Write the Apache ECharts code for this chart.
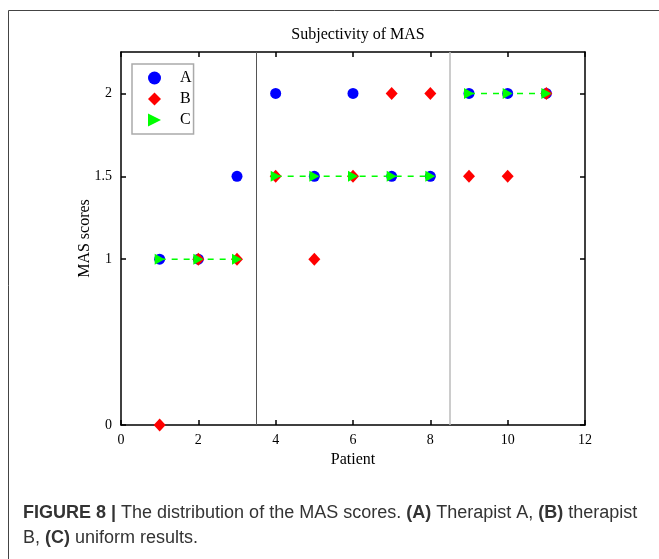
<!DOCTYPE html>
<html>
<head>
<meta charset="utf-8">
<script src="https://cdn.jsdelivr.net/npm/echarts@6/dist/echarts.min.js"></script>
<style>
  html, body { margin: 0; padding: 0; background: #fff; }
  #chart { width: 659px; height: 559px; }
</style>
</head>
<body>
<div id="chart"></div>
<script>
// data
var patients = [1, 2, 3, 4, 5, 6, 7, 8, 9, 10, 11];
var scoresA  = [1, 1, 1.5, 2, 1.5, 2, 1.5, 1.5, 2, 2, 2];      // therapist A
var scoresB  = [0, 1, 1, 1.5, 1, 1.5, 2, 2, 1.5, 1.5, 2];      // therapist B
var scoresC  = [1, 1, 1, 1.5, 1.5, 1.5, 1.5, 1.5, 2, 2, 2];    // uniform results
var groupBreaks = [3.5, 8.5];
var yTicks = [0, 1, 1.5, 2];

var serif = '"Liberation Serif", "DejaVu Serif", serif';
var sans = '"Liberation Sans", Arial, sans-serif';
var triPath = 'path://M0,0 L10,5 L0,10 Z';

function pairs(ys) {
    return patients.map(function (p, i) { return [p, ys[i]]; });
}

// split C into the three dashed segments
var segC = [[], [], []];
patients.forEach(function (p, i) {
    var g = 0;
    while (g < groupBreaks.length && p > groupBreaks[g]) g++;
    segC[g].push([p, scoresC[i]]);
});

var series = [
    {
        name: 'A', type: 'scatter', data: pairs(scoresA),
        symbol: 'circle', symbolSize: 11,
        itemStyle: { color: '#0000ff', opacity: 1 },
        markLine: {
            silent: true, symbol: 'none', label: { show: false },
            data: [
                { xAxis: groupBreaks[0], lineStyle: { color: '#555', width: 1, type: 'solid' } },
                { xAxis: groupBreaks[1], lineStyle: { color: '#bbb', width: 1.5, type: 'solid' } }
            ]
        }
    },
    {
        name: 'B', type: 'scatter', data: pairs(scoresB),
        symbol: 'diamond', symbolSize: [12, 13],
        itemStyle: { color: '#ff0000', opacity: 1 }
    }
];
segC.forEach(function (seg) {
    series.push({
        name: 'C', type: 'line', data: seg,
        symbol: triPath, symbolSize: [10, 11], showAllSymbol: true,
        itemStyle: { color: '#00ff00', opacity: 1 },
        lineStyle: { color: '#00ff00', width: 1.5, type: [6, 6] }
    });
});

function axisLine() {
    return { onZero: false, lineStyle: { color: '#000', width: 1.5 } };
}
function tick(custom) {
    var t = { inside: true, length: 5, lineStyle: { color: '#000', width: 1.5 } };
    if (custom) t.customValues = custom;
    return t;
}

var option = {
    backgroundColor: '#fff',
    animation: false,
    title: [
        {
            text: 'Subjectivity of MAS', left: 353, top: 22, textAlign: 'center',
            textStyle: { fontFamily: serif, fontSize: 16, fontWeight: 'normal', color: '#000' }
        },
        {
            text: '{b|FIGURE 8 |} The distribution of the MAS scores. {b|(A)} Therapist A, {b|(B)} therapist\nB, {b|(C)} uniform results.',
            left: 18, top: 496,
            textStyle: {
                fontFamily: sans, fontSize: 18,
                fontWeight: 'normal', color: '#333', lineHeight: 25,
                rich: { b: { fontFamily: sans, fontSize: 18, fontWeight: 'bold', color: '#333', lineHeight: 25 } }
            }
        }
    ],
    legend: {
        orient: 'vertical', left: 132, top: 64,
        padding: [6, 2, 6, 16],
        itemGap: 5, itemWidth: 13, itemHeight: 13,
        borderColor: '#aaa', borderWidth: 1.5, borderRadius: 0,
        textStyle: { fontFamily: serif, fontSize: 16, color: '#000', padding: [0, 0, 0, 14] },
        data: [
            { name: 'A', icon: 'circle', itemStyle: { color: '#0000ff' } },
            { name: 'B', icon: 'diamond', itemStyle: { color: '#ff0000' } },
            { name: 'C', icon: triPath, itemStyle: { color: '#00ff00' } }
        ]
    },
    grid: { left: 121, right: 74, top: 52, bottom: 134, containLabel: false },
    xAxis: [
        {
            type: 'value', min: 0, max: 12, interval: 2, position: 'bottom',
            name: 'Patient', nameLocation: 'middle', nameGap: 25,
            nameTextStyle: { fontFamily: serif, fontSize: 16, color: '#000' },
            axisLine: axisLine(), axisTick: tick(),
            axisLabel: { fontFamily: serif, fontSize: 14, color: '#000', margin: 8 },
            splitLine: { show: false }
        },
        {
            type: 'value', min: 0, max: 12, interval: 2, position: 'top',
            axisLine: axisLine(), axisTick: tick(),
            axisLabel: { show: false },
            splitLine: { show: false }
        }
    ],
    yAxis: [
        {
            type: 'value', min: 0, max: 2.25, position: 'left',
            name: 'MAS scores', nameLocation: 'middle', nameGap: 28, nameRotate: 90,
            nameMoveOverlap: false,
            nameTextStyle: { fontFamily: serif, fontSize: 16, color: '#000' },
            axisLine: axisLine(), axisTick: tick(yTicks),
            axisLabel: { fontFamily: serif, fontSize: 14, color: '#000', margin: 9, customValues: yTicks },
            splitLine: { show: false }
        },
        {
            type: 'value', min: 0, max: 2.25, position: 'right',
            axisLine: axisLine(), axisTick: tick(yTicks),
            axisLabel: { show: false },
            splitLine: { show: false }
        }
    ],
    graphic: [
        {
            type: 'rect', silent: true, z: -1,
            shape: { x: 8.5, y: 10.5, width: 700, height: 600 },
            style: { fill: null, stroke: '#444', lineWidth: 1 }
        }
    ],
    series: series
};

var chart = echarts.init(document.getElementById('chart'), null, { renderer: 'canvas' });
chart.setOption(option);
</script>
</body>
</html>
